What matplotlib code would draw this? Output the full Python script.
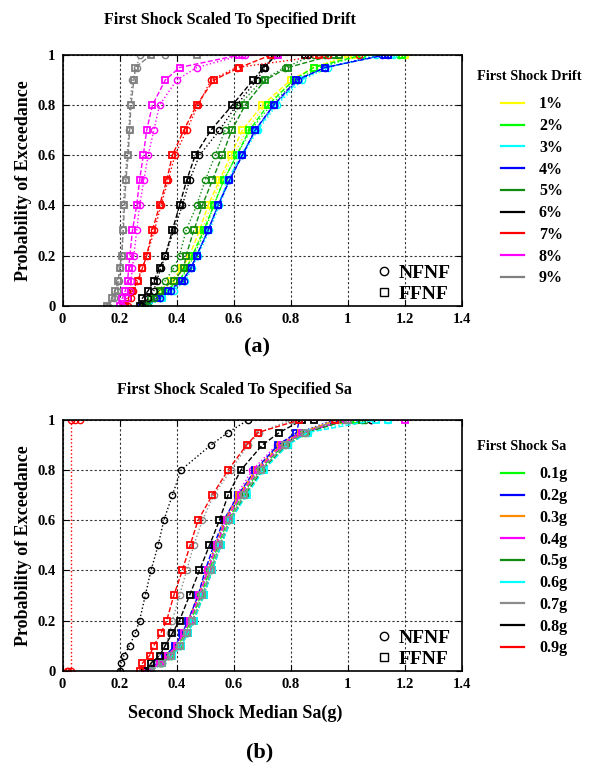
import numpy as np
import matplotlib
matplotlib.use("Agg")
import matplotlib.pyplot as plt
from matplotlib.lines import Line2D
from matplotlib.ticker import FormatStrFormatter

plt.rcParams['font.family'] = ['Liberation Serif', 'DejaVu Serif']
plt.rcParams['font.weight'] = 'bold'

# probability levels shared by the curves (last two points both sit at 1)
prob = [0, 0.03, 0.06, 0.1, 0.15, 0.2, 0.3, 0.4, 0.5, 0.6, 0.7, 0.8, 0.9, 0.95, 1.0, 1.0]

# ---- panel (a): first shock scaled to drift ----
drift_labels = ['1%', '2%', '3%', '4%', '5%', '6%', '7%', '8%', '9%']
drift_colors = ['#ffff00', '#00ff00', '#00ffff', '#0000ff', '#108a10', '#000000', '#ff0000', '#ff00ff', '#808080']

drift_nfnf = [
    [0.29, 0.33, 0.35, 0.39, 0.43, 0.455, 0.49, 0.52, 0.555, 0.60, 0.645, 0.71, 0.81, 0.88, 1.00, 1.20],
    [0.30, 0.34, 0.37, 0.41, 0.44, 0.46, 0.50, 0.53, 0.565, 0.61, 0.66, 0.73, 0.82, 0.90, 1.05, 1.18],
    [0.30, 0.35, 0.39, 0.43, 0.455, 0.475, 0.515, 0.55, 0.585, 0.63, 0.685, 0.75, 0.84, 0.93, 1.10, 1.16],
    [0.29, 0.34, 0.38, 0.425, 0.45, 0.47, 0.51, 0.545, 0.585, 0.63, 0.675, 0.74, 0.825, 0.92, 1.12, 1.14],
    [0.30, 0.32, 0.34, 0.36, 0.39, 0.41, 0.433, 0.47, 0.50, 0.535, 0.57, 0.62, 0.70, 0.78, 0.88, 0.92],
    [0.28, 0.30, 0.32, 0.33, 0.345, 0.36, 0.39, 0.42, 0.445, 0.48, 0.55, 0.61, 0.68, 0.71, 0.74, 0.86],
    [0.23, 0.24, 0.248, 0.26, 0.28, 0.295, 0.322, 0.345, 0.37, 0.394, 0.435, 0.475, 0.52, 0.61, 0.93, 1.04],
    [0.21, 0.225, 0.235, 0.24, 0.245, 0.25, 0.26, 0.27, 0.285, 0.30, 0.32, 0.34, 0.40, 0.47, 0.63, 0.64],
    [0.16, 0.18, 0.19, 0.198, 0.203, 0.208, 0.212, 0.213, 0.218, 0.226, 0.233, 0.236, 0.245, 0.26, 0.27, 0.36],
]
drift_ffnf = [
    [0.29, 0.32, 0.34, 0.38, 0.42, 0.445, 0.48, 0.51, 0.55, 0.59, 0.63, 0.70, 0.80, 0.88, 1.02, 1.20],
    [0.29, 0.32, 0.36, 0.41, 0.435, 0.455, 0.495, 0.53, 0.565, 0.61, 0.655, 0.72, 0.81, 0.88, 1.05, 1.19],
    [0.30, 0.35, 0.38, 0.42, 0.45, 0.47, 0.51, 0.545, 0.58, 0.625, 0.68, 0.745, 0.83, 0.92, 1.13, 1.15],
    [0.28, 0.33, 0.37, 0.42, 0.45, 0.47, 0.51, 0.545, 0.585, 0.63, 0.675, 0.74, 0.82, 0.92, 1.13, 1.14],
    [0.29, 0.31, 0.34, 0.39, 0.425, 0.433, 0.46, 0.49, 0.525, 0.56, 0.593, 0.64, 0.71, 0.79, 0.95, 0.97],
    [0.27, 0.28, 0.30, 0.32, 0.34, 0.36, 0.385, 0.41, 0.435, 0.465, 0.52, 0.595, 0.668, 0.705, 0.75, 0.85],
    [0.22, 0.23, 0.245, 0.265, 0.28, 0.295, 0.315, 0.34, 0.365, 0.385, 0.425, 0.47, 0.53, 0.62, 0.73, 0.90],
    [0.20, 0.21, 0.22, 0.228, 0.232, 0.236, 0.245, 0.26, 0.27, 0.283, 0.295, 0.315, 0.36, 0.41, 0.62, 0.755],
    [0.155, 0.175, 0.185, 0.195, 0.20, 0.207, 0.213, 0.217, 0.222, 0.23, 0.235, 0.24, 0.25, 0.255, 0.31, 0.47],
]

# ---- panel (b): first shock scaled to Sa ----
sa_labels = ['0.1g', '0.2g', '0.3g', '0.4g', '0.5g', '0.6g', '0.7g', '0.8g', '0.9g']
sa_colors = ['#00ff00', '#0000ff', '#ff8c00', '#ff00ff', '#108a10', '#00ffff', '#8c8c8c', '#000000', '#ff0000']

sa_nfnf = [
    [0.30, 0.34, 0.37, 0.40, 0.425, 0.445, 0.48, 0.51, 0.54, 0.575, 0.625, 0.685, 0.77, 0.84, 0.98, 1.05],
    [0.30, 0.33, 0.36, 0.395, 0.42, 0.44, 0.475, 0.505, 0.535, 0.57, 0.62, 0.68, 0.76, 0.83, 0.95, 1.02],
    [0.30, 0.34, 0.37, 0.40, 0.42, 0.44, 0.475, 0.505, 0.535, 0.565, 0.615, 0.675, 0.76, 0.83, 0.97, 1.03],
    [0.30, 0.34, 0.37, 0.40, 0.425, 0.445, 0.48, 0.51, 0.54, 0.57, 0.61, 0.665, 0.75, 0.83, 0.99, 1.08],
    [0.31, 0.35, 0.38, 0.41, 0.435, 0.455, 0.49, 0.52, 0.55, 0.585, 0.635, 0.695, 0.78, 0.85, 1.00, 1.06],
    [0.31, 0.35, 0.38, 0.41, 0.435, 0.455, 0.49, 0.52, 0.55, 0.585, 0.64, 0.70, 0.79, 0.86, 1.05, 1.14],
    [0.30, 0.32, 0.34, 0.36, 0.375, 0.385, 0.41, 0.435, 0.46, 0.49, 0.53, 0.59, 0.65, 0.69, 0.80, 1.00],
    [0.20, 0.205, 0.215, 0.235, 0.255, 0.27, 0.29, 0.31, 0.335, 0.355, 0.385, 0.415, 0.52, 0.58, 0.65, 1.08],
]
# 0.9g NFNF sits on a vertical line at the left edge
sa_red_nfnf_x = [0.015, 0.02, 0.03, 0.03, 0.045, 0.06]
sa_red_nfnf_y = [0, 0, 0, 1, 1, 1]

sa_ffnf = [
    [0.30, 0.345, 0.375, 0.405, 0.43, 0.45, 0.485, 0.515, 0.545, 0.58, 0.63, 0.69, 0.775, 0.845, 1.00, 1.03],
    [0.29, 0.33, 0.36, 0.395, 0.42, 0.44, 0.475, 0.50, 0.53, 0.565, 0.615, 0.675, 0.755, 0.82, 0.83, 0.95],
    [0.30, 0.34, 0.37, 0.40, 0.425, 0.445, 0.48, 0.51, 0.54, 0.57, 0.62, 0.68, 0.765, 0.835, 0.96, 1.00],
    [0.30, 0.34, 0.37, 0.40, 0.425, 0.445, 0.48, 0.51, 0.54, 0.575, 0.625, 0.685, 0.77, 0.84, 1.00, 1.20],
    [0.31, 0.35, 0.38, 0.415, 0.44, 0.46, 0.495, 0.525, 0.555, 0.59, 0.64, 0.70, 0.785, 0.855, 1.00, 1.05],
    [0.31, 0.35, 0.385, 0.415, 0.44, 0.46, 0.495, 0.525, 0.555, 0.59, 0.645, 0.705, 0.79, 0.86, 1.10, 1.14],
    [0.31, 0.35, 0.38, 0.41, 0.435, 0.455, 0.49, 0.52, 0.55, 0.585, 0.635, 0.695, 0.78, 0.85, 0.96, 1.00],
    [0.29, 0.31, 0.34, 0.36, 0.385, 0.41, 0.445, 0.48, 0.515, 0.55, 0.58, 0.625, 0.70, 0.76, 0.84, 0.88],
    [0.27, 0.28, 0.305, 0.32, 0.345, 0.365, 0.39, 0.42, 0.447, 0.475, 0.525, 0.58, 0.645, 0.685, 0.83, 0.955],
]

fig = plt.figure(figsize=(5.9, 7.65), dpi=100)
ax1 = fig.add_axes([0.106, 0.6004, 0.677, 0.3277])
ax2 = fig.add_axes([0.106, 0.1233, 0.677, 0.3277])


def style_axes(ax):
    ax.set_xlim(0, 1.4)
    ax.set_ylim(0, 1)
    ax.set_xticks(np.arange(0, 1.41, 0.2))
    ax.set_yticks(np.arange(0, 1.01, 0.2))
    ax.xaxis.set_major_formatter(FormatStrFormatter('%g'))
    ax.yaxis.set_major_formatter(FormatStrFormatter('%g'))
    ax.grid(True, linestyle=(0, (2, 2)), color='#333333', linewidth=0.8)
    ax.tick_params(direction='in', top=True, right=True, length=4, labelsize=10.5, pad=5)
    for lab in ax.get_xticklabels() + ax.get_yticklabels():
        lab.set_fontweight('bold')
    for sp in ax.spines.values():
        sp.set_linewidth(1.2)
    ax.set_ylabel('Probability of Exceedance', fontsize=13, fontweight='bold', labelpad=4)


def draw_curve(ax, x, y, color, kind):
    if kind == 'nf':
        ax.plot(x, y, linestyle=':', color=color, linewidth=1.0, marker='o',
                markersize=4.5, markerfacecolor='none', markeredgewidth=1.0)
    else:
        ax.plot(x, y, linestyle='--', color=color, linewidth=1.0, marker='s',
                markersize=4.8, markerfacecolor='none', markeredgewidth=1.3)


for i in range(len(drift_labels)):
    draw_curve(ax1, drift_nfnf[i], prob, drift_colors[i], 'nf')
    draw_curve(ax1, drift_ffnf[i], prob, drift_colors[i], 'ff')

for i in range(len(sa_labels)):
    if i < len(sa_nfnf):
        draw_curve(ax2, sa_nfnf[i], prob, sa_colors[i], 'nf')
    else:
        draw_curve(ax2, sa_red_nfnf_x, sa_red_nfnf_y, sa_colors[i], 'nf')
for i in range(len(sa_labels)):
    draw_curve(ax2, sa_ffnf[i], prob, sa_colors[i], 'ff')

for ax in (ax1, ax2):
    style_axes(ax)
    mk = [Line2D([], [], linestyle='none', marker='o', color='k', markerfacecolor='none', markersize=6),
          Line2D([], [], linestyle='none', marker='s', color='k', markerfacecolor='none', markersize=6)]
    ax.legend(mk, ['NFNF', 'FFNF'], loc='lower right', bbox_to_anchor=(1.0, -0.035),
              frameon=False, prop={'size': 14, 'weight': 'bold'}, handlelength=0.8,
              handletextpad=0.35, labelspacing=0.15, borderaxespad=0.2)


def color_legend(fig, labels, colors, title, y_title, y_top):
    fig.text(477 / 590, 1 - y_title / 765, title, ha='left', va='center',
             fontsize=10.3, fontweight='bold')
    handles = [Line2D([], [], color=c, linewidth=1.6) for c in colors]
    fig.legend(handles, labels, loc='upper left', bbox_to_anchor=(487 / 590, y_top),
               frameon=False, handlelength=1.4, handletextpad=0.95,
               labelspacing=0.36, prop={'size': 11.5, 'weight': 'bold'})


color_legend(fig, drift_labels, drift_colors, 'First Shock Drift', 76, 1 - 82 / 765)
color_legend(fig, sa_labels, sa_colors, 'First Shock Sa', 447, 1 - 452 / 765)

fig.text(0.389, 1 - 20 / 765, 'First Shock Scaled To Specified Drift', ha='center', va='center',
         fontsize=11.5, fontweight='bold')
fig.text(0.397, 1 - 390 / 765, 'First Shock Scaled To Specified Sa', ha='center', va='center',
         fontsize=11.5, fontweight='bold')
fig.text(0.436, 1 - 347 / 765, '(a)', ha='center', va='center', fontsize=16, fontweight='bold')
fig.text(0.44, 1 - 752 / 765, '(b)', ha='center', va='center', fontsize=16, fontweight='bold')
fig.text(0.398, 1 - 713 / 765, 'Second Shock Median Sa(g)', ha='center', va='center',
         fontsize=13, fontweight='bold')

fig.savefig('out.png', dpi=100)
